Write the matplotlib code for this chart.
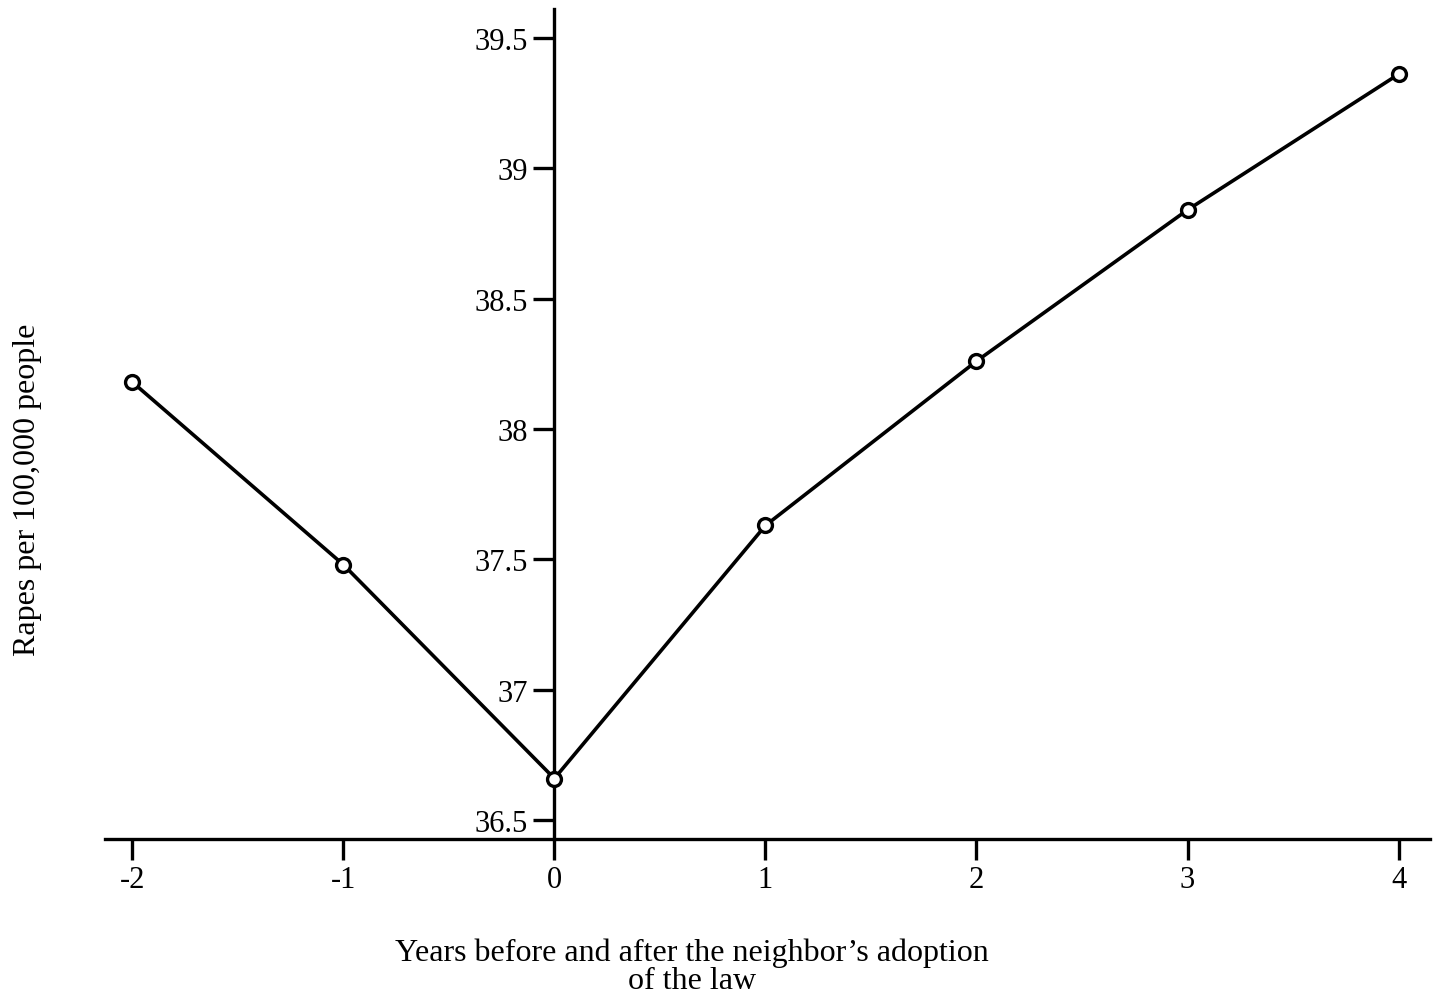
import numpy as np
import matplotlib
matplotlib.use('Agg')
import matplotlib.pyplot as plt

# values
years = [-2, -1, 0, 1, 2, 3, 4]
rapes = [38.18, 37.48, 36.66, 37.63, 38.26, 38.84, 39.36]
yticks = [36.5, 37, 37.5, 38, 38.5, 39, 39.5]
ytick_labels = ['36.5', '37', '37.5', '38', '38.5', '39', '39.5']

plt.rcParams['font.family'] = ['Liberation Serif', 'DejaVu Serif']

fig = plt.figure(figsize=(14.36, 10.03), dpi=100)
ax = fig.add_axes([0.073, 0.163, 0.923, 0.827])

ax.plot(years, rapes, color='black', lw=2.6, marker='o', ms=10,
        mfc='white', mec='black', mew=2.4, zorder=3)

ax.set_xlim(-2.13, 4.15)
ax.set_ylim(36.43, 39.61)

ax.spines['top'].set_visible(False)
ax.spines['right'].set_visible(False)
ax.spines['left'].set_position(('data', 0))
ax.spines['left'].set_linewidth(2.4)
ax.spines['bottom'].set_linewidth(2.4)

ax.set_xticks(years)
ax.set_xticklabels([str(v) for v in years])
ax.set_yticks(yticks)
ax.set_yticklabels(ytick_labels)
ax.tick_params(axis='both', direction='out', length=15, width=2.4,
               labelsize=22, pad=4)

fig.text(0.019, 0.512, 'Rapes per 100,000 people', rotation=90,
         ha='center', va='center', fontsize=23)
fig.text(0.482, 0.036, 'Years before and after the neighbor\u2019s adoption\nof the law',
         ha='center', va='center', fontsize=23, linespacing=0.95)

plt.savefig('out.png', dpi=100)
